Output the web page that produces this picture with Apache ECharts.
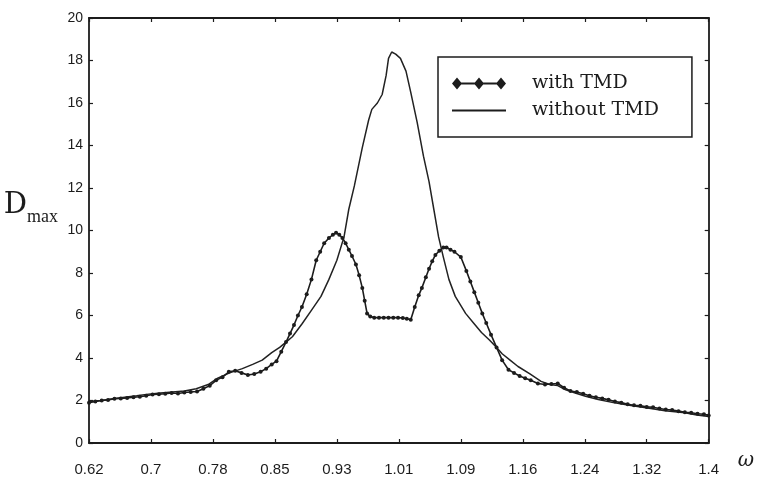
<!DOCTYPE html>
<html>
<head>
<meta charset="utf-8">
<script src="https://cdn.jsdelivr.net/npm/echarts@6/dist/echarts.min.js"></script>
<style>html,body{margin:0;padding:0;background:#fff}#c{width:757px;height:480px}</style>
</head>
<body>
<div id="c"></div>
<script>
// ---- data ----
const xTickLabels = ['0.62','0.7','0.78','0.85','0.93','1.01','1.09','1.16','1.24','1.32','1.4'];
const yTickStep = 2;
const seriesNames = ['with TMD', 'without TMD'];

const withX = [0.620,0.628,0.636,0.644,0.652,0.660,0.668,0.676,0.684,0.692,0.700,0.708,0.716,0.724,0.732,0.740,0.748,0.756,0.764,0.772,0.780,0.788,0.796,0.804,0.812,0.820,0.828,0.836,0.843,0.850,0.856,0.862,0.868,0.873,0.878,0.883,0.888,0.894,0.900,0.906,0.911,0.916,0.922,0.927,0.931,0.935,0.939,0.943,0.947,0.951,0.956,0.960,0.964,0.967,0.970,0.974,0.979,0.985,0.991,0.997,1.003,1.009,1.015,1.020,1.025,1.030,1.035,1.039,1.044,1.048,1.052,1.056,1.061,1.066,1.070,1.075,1.080,1.088,1.095,1.100,1.105,1.110,1.115,1.120,1.126,1.133,1.140,1.148,1.155,1.162,1.169,1.176,1.185,1.194,1.202,1.210,1.218,1.226,1.234,1.242,1.250,1.258,1.266,1.274,1.282,1.290,1.298,1.306,1.314,1.322,1.330,1.338,1.346,1.354,1.362,1.370,1.378,1.386,1.394,1.400];
const withY = [1.90,1.95,2.00,2.02,2.08,2.10,2.12,2.15,2.18,2.22,2.28,2.30,2.32,2.35,2.33,2.38,2.40,2.42,2.55,2.70,2.95,3.10,3.35,3.40,3.30,3.20,3.25,3.35,3.50,3.70,3.85,4.30,4.75,5.15,5.55,6.00,6.40,7.00,7.70,8.60,9.00,9.40,9.65,9.80,9.90,9.80,9.65,9.40,9.10,8.80,8.40,7.90,7.30,6.70,6.10,5.95,5.90,5.90,5.90,5.90,5.90,5.90,5.88,5.85,5.80,6.40,6.95,7.30,7.80,8.20,8.55,8.85,9.05,9.20,9.20,9.10,9.00,8.75,8.10,7.60,7.10,6.60,6.10,5.65,5.10,4.50,3.90,3.45,3.30,3.15,3.05,2.95,2.80,2.75,2.78,2.80,2.60,2.45,2.40,2.32,2.22,2.15,2.10,2.03,1.95,1.90,1.82,1.78,1.75,1.70,1.68,1.62,1.58,1.55,1.50,1.45,1.42,1.38,1.35,1.30];

const withoutX = [0.620,0.635,0.650,0.665,0.680,0.695,0.710,0.725,0.740,0.755,0.770,0.782,0.797,0.813,0.826,0.838,0.850,0.860,0.868,0.876,0.888,0.901,0.912,0.922,0.932,0.941,0.947,0.954,0.964,0.972,0.976,0.983,0.989,0.994,0.997,1.001,1.006,1.012,1.019,1.025,1.033,1.041,1.048,1.054,1.060,1.066,1.073,1.081,1.094,1.104,1.114,1.124,1.133,1.140,1.150,1.160,1.175,1.189,1.200,1.210,1.220,1.232,1.245,1.261,1.280,1.300,1.323,1.345,1.370,1.385,1.400];
const withoutY = [1.95,2.00,2.08,2.15,2.22,2.30,2.35,2.40,2.45,2.55,2.75,3.05,3.30,3.50,3.70,3.90,4.25,4.50,4.75,5.00,5.60,6.30,6.90,7.70,8.60,9.70,11.00,12.10,13.90,15.20,15.70,16.00,16.40,17.30,18.10,18.40,18.30,18.10,17.50,16.50,15.10,13.50,12.30,11.00,9.70,8.75,7.70,6.90,6.10,5.65,5.20,4.85,4.50,4.20,3.90,3.60,3.25,2.90,2.75,2.70,2.50,2.35,2.20,2.05,1.90,1.78,1.65,1.52,1.42,1.32,1.25];

// ---- build ----
const xMin = parseFloat(xTickLabels[0]);
const xMax = parseFloat(xTickLabels[xTickLabels.length - 1]);
const xTickValues = xTickLabels.map((_, i) =>
  Math.round((xMin + i * (xMax - xMin) / (xTickLabels.length - 1)) * 1e6) / 1e6);
const xFmt = v => {
  const i = xTickValues.findIndex(t => Math.abs(t - v) < 1e-6);
  return i >= 0 ? xTickLabels[i] : '';
};
const zip = (xs, ys) => xs.map((x, i) => [x, ys[i]]);

const INK = '#1c1c1c';
const tickStyle = { show: true, inside: true, length: 4, lineStyle: { color: INK, width: 1.2 } };
const lineStyleAxis = { show: true, onZero: false, lineStyle: { color: INK, width: 1.8 } };

const chart = echarts.init(document.getElementById('c'), null, { renderer: 'canvas' });
chart.setOption({
  animation: false,
  backgroundColor: '#fff',
  grid: { left: 89, right: 46, top: 18, bottom: 37, containLabel: false },
  legend: {
    left: 438, top: 57,
    orient: 'vertical', align: 'left',
    selectedMode: false,
    backgroundColor: '#fff',
    borderColor: INK, borderWidth: 1.5, borderRadius: 0,
    padding: [17, 33, 17, 14],
    itemGap: 8, itemWidth: 54, itemHeight: 12,
    textStyle: { fontFamily: 'DejaVu Serif', fontSize: 19, color: INK, padding: [0, 0, 0, 21] },
    data: [
      { name: seriesNames[0], icon: 'path://M0,6 L5,0 L10,6 L5,12 Z M22,6 L27,0 L32,6 L27,12 Z M44,6 L49,0 L54,6 L49,12 Z M5,5 L49,5 L49,7 L5,7 Z' },
      { name: seriesNames[1], icon: 'path://M0,0 L54,0 L54,2 L0,2 Z' }
    ]
  },
  xAxis: [{
    type: 'value', min: xMin, max: xMax, position: 'bottom',
    axisLine: lineStyleAxis,
    axisTick: Object.assign({ customValues: xTickValues }, tickStyle),
    axisLabel: { customValues: xTickValues, formatter: xFmt, margin: 19,
      fontFamily: 'Liberation Sans', fontSize: 15, color: INK },
    splitLine: { show: false },
    name: '{w|ω}', nameLocation: 'end', nameGap: 29,
    nameTextStyle: {
      rich: { w: { fontFamily: 'DejaVu Serif', fontStyle: 'italic', fontSize: 20, color: INK,
        padding: [36, 0, 0, 0] } }
    }
  }, {
    type: 'value', min: xMin, max: xMax, position: 'top',
    axisLine: lineStyleAxis,
    axisTick: Object.assign({ customValues: xTickValues }, tickStyle),
    axisLabel: { show: false }, splitLine: { show: false }
  }],
  yAxis: [{
    type: 'value', min: 0, max: 20, interval: yTickStep, position: 'left',
    axisLine: lineStyleAxis,
    axisTick: tickStyle,
    axisLabel: { margin: 6, fontFamily: 'Liberation Sans', fontSize: 14, color: INK },
    splitLine: { show: false },
    name: '{D|D}{s|max}', nameLocation: 'middle', nameRotate: 0, nameGap: 31,
    nameTextStyle: {
      padding: [0, 0, 40, 0],
      rich: {
        D: { fontFamily: 'DejaVu Serif', fontSize: 29, color: INK, verticalAlign: 'bottom', lineHeight: 32, padding: [0, 0, 7, 0] },
        s: { fontFamily: 'Liberation Serif', fontSize: 18, color: INK, verticalAlign: 'bottom', lineHeight: 20 }
      }
    }
  }, {
    type: 'value', min: 0, max: 20, interval: yTickStep, position: 'right',
    axisLine: lineStyleAxis,
    axisTick: tickStyle,
    axisLabel: { show: false }, splitLine: { show: false }
  }],
  series: [{
    name: seriesNames[1], type: 'line', xAxisIndex: 0, yAxisIndex: 0,
    data: zip(withoutX, withoutY),
    showSymbol: false, symbol: 'none',
    color: INK,
    lineStyle: { color: '#222', width: 1.5 },
    z: 2
  }, {
    name: seriesNames[0], type: 'line', xAxisIndex: 0, yAxisIndex: 0,
    data: zip(withX, withY),
    symbol: 'circle', symbolSize: 4, showSymbol: true,
    color: INK,
    itemStyle: { color: INK },
    lineStyle: { color: INK, width: 1.6 },
    z: 3
  }]
});
</script>
</body>
</html>
